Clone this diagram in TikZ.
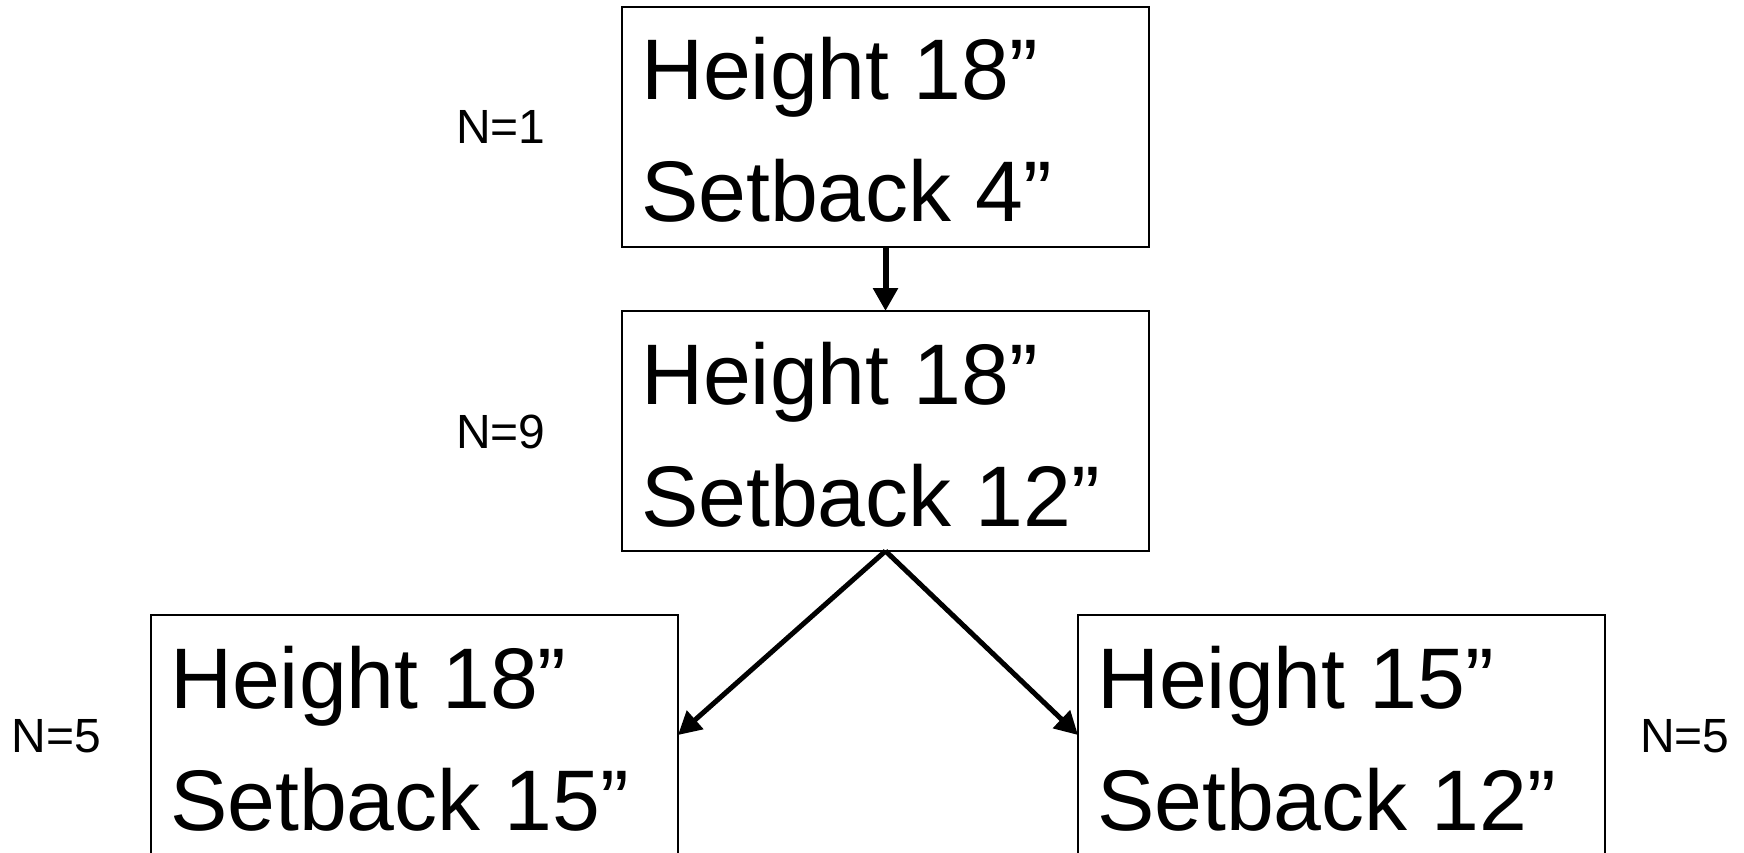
\documentclass[tikz,border=0pt]{standalone}
\usepackage{fontspec}
\setmainfont{Liberation Sans}
\usetikzlibrary{arrows.meta}
\begin{document}
\begin{tikzpicture}[x=1pt,y=-1pt,
  box/.style={draw=black, line width=2pt, minimum width=527pt, minimum height=240pt,
              inner sep=0pt, outer sep=0pt, anchor=north west},
  big/.style={inner sep=0pt, outer sep=0pt, anchor=base west, font=\fontsize{86}{100}\selectfont},
  lab/.style={inner sep=0pt, outer sep=0pt, anchor=base west, font=\fontsize{48}{56}\selectfont},
  conn/.style={line width=6pt, -{Triangle[width=24pt,length=23pt]}}]
\useasboundingbox (0,0) rectangle (1744,853);
\clip (0,0) rectangle (1744,853);
\fill[white] (0,0) rectangle (1744,853);
% boxes
\node[box] (b1) at (622,7) {};
\node[box] (b2) at (622,311) {};
\node[box] (b3) at (151,615) {};
\node[box] (b4) at (1078,615) {};
% texts
\node[big] (t1a) at (641,100) {Height 18”};
\node[big] (t1b) at (641,222) {Setback 4”};
\node[big] (t2a) at (641,404) {Height 18”};
\node[big] (t2b) at (641,526) {Setback 12”};
\node[big] (t3a) at (170,708) {Height 18”};
\node[big] (t3b) at (170,830) {Setback 15”};
\node[big] (t4a) at (1097,708) {Height 15”};
\node[big] (t4b) at (1097,830) {Setback 12”};
% labels
\node[lab] (n1) at (456,144) {N=1};
\node[lab] (n2) at (456,448) {N=9};
\node[lab] (n3) at (12,752) {N=5};
\node[lab] (n4) at (1640,752) {N=5};
% connectors
\draw[conn] (b1.south) -- (b2.north);
\draw[conn, line width=5pt] (b2.south) -- (b3.east);
\draw[conn, line width=5pt] (b2.south) -- (b4.west);
\end{tikzpicture}
\end{document}
